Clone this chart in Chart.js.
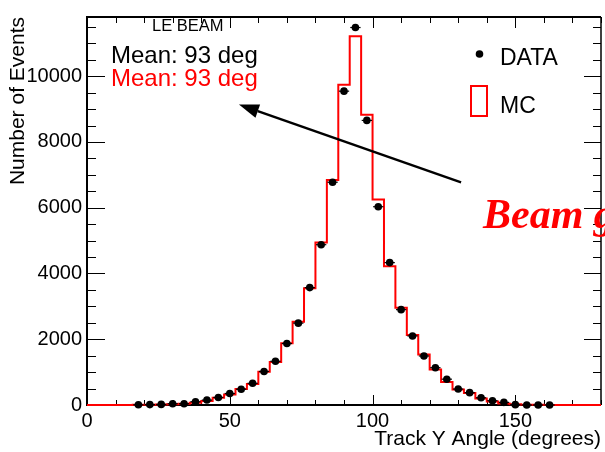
<!DOCTYPE html>
<html>
<head>
<meta charset="utf-8">
<script src="https://cdn.jsdelivr.net/npm/chart.js@4"></script>
<style>
html,body{margin:0;padding:0;background:#fff;}
#wrap{width:605px;height:452px;}
</style>
</head>
<body>
<div id="wrap"><canvas id="chart" width="605" height="452"></canvas></div>
<script>
// === TRACK Y ANGLE - LE BEAM === //

// MC histogram: low edge of each 4 degree bin, last upper edge
const binEdges = [0,4,8,12,16,20,24,28,32,36,40,44,48,52,56,60,64,68,72,76,80,84,88,92,96,100,104,108,112,116,120,124,128,132,136,140,144,148,152,156,160,164,168,172,176];
const binTop = 180;
const mcCounts = [0,0,0,0,5,10,15,25,40,70,120,220,320,490,640,1010,1310,1880,2530,3550,4945,6845,9740,11215,8830,6250,4220,2960,2130,1535,1080,700,470,365,200,105,45,20,10,5,0,0,0,0,0];

// DATA points at bin centres
const dataAngles = [18,22,26,30,34,38,42,46,50,54,58,62,66,70,74,78,82,86,90,94,98,102,106,110,114,118,122,126,130,134,138,142,146,150,154,158,162];
const dataCounts = [8,12,18,40,40,100,150,230,350,480,660,1020,1330,1870,2490,3570,4875,6775,9545,11480,8655,6030,4330,2900,2100,1490,1135,785,485,375,220,130,80,10,0,0,0];
const halfBin = 1.8;

// axis setup
const xTicks = [0,50,100,150];
const yTicks = [0,2000,4000,6000,8000,10000];
const xRange = [0,180];
const yRange = [0,11800];

// annotation texts
const caption = "LE BEAM";
const meanData = "Mean: 93 deg";
const meanMC = "Mean: 93 deg";
const arrowFrom = [131, 6770];
const arrowTo = [53.2, 9140];
const beamText = "Beam g";

const FONT = "'Liberation Sans', Arial, sans-serif";

const mcPoints = binEdges.map((e,i) => ({x:e, y:mcCounts[i]}));
mcPoints.push({x:binTop, y:mcCounts[mcCounts.length-1]});
const dataPoints = dataAngles.map((a,i) => ({x:a, y:dataCounts[i]}));

// ---- frame and inner ticks like ROOT ---- //
const rootFrame = {
  id: "rootFrame",
  beforeDatasetsDraw(chart){
    const {ctx, chartArea:a, scales:{x, y}} = chart;
    ctx.save();
    ctx.strokeStyle = "#000";
    const seg = (x1,y1,x2,y2) => { ctx.beginPath(); ctx.moveTo(x1,y1); ctx.lineTo(x2,y2); ctx.stroke(); };

    ctx.lineWidth = 1;
    for(let v=0; v<=y.max; v+=500){
      const py = Math.round(y.getPixelForValue(v)) + 0.5;
      const major = v % 2000 === 0;
      seg(a.left, py, a.left + (major?18:9), py);
      seg(a.right, py, a.right - (major?17:8), py);
    }
    for(let v=0; v<=x.max; v+=10){
      const px = Math.round(x.getPixelForValue(v)) + 0.5;
      const major = v % 50 === 0;
      seg(px, a.bottom, px, a.bottom - (major?10:5));
      seg(px, a.top, px, a.top + (major?11:6));
    }

    ctx.lineWidth = 2;
    seg(a.left, a.top, a.right, a.top);
    seg(a.left, a.top-1, a.left, a.bottom+1);
    seg(a.left-1, a.bottom, a.right, a.bottom);
    ctx.lineWidth = 1.5;
    seg(a.right, a.top, a.right, a.bottom);
    ctx.restore();
  },
  afterDatasetsDraw(chart){
    // small horizontal error bars on the data points
    const {ctx, scales:{x, y}} = chart;
    ctx.save();
    ctx.strokeStyle = "#000";
    ctx.lineWidth = 1.2;
    dataPoints.forEach(p => {
      const py = y.getPixelForValue(p.y);
      ctx.beginPath();
      ctx.moveTo(x.getPixelForValue(p.x - halfBin), py);
      ctx.lineTo(x.getPixelForValue(p.x + halfBin), py);
      ctx.stroke();
    });
    ctx.restore();
  }
};

// ---- texts, arrow, legend ---- //
const annotations = {
  id: "annotations",
  afterDraw(chart){
    const {ctx, scales:{x, y}} = chart;
    ctx.save();
    ctx.textBaseline = "alphabetic";
    ctx.textAlign = "left";

    ctx.fillStyle = "#000";
    ctx.font = "16.5px " + FONT;
    ctx.fillText(caption, 152, 31);

    ctx.font = "24px " + FONT;
    ctx.fillText(meanData, 111, 63);
    ctx.fillStyle = "#ff0000";
    ctx.fillText(meanMC, 111, 86);

    // arrow
    const x1 = x.getPixelForValue(arrowFrom[0]), y1 = y.getPixelForValue(arrowFrom[1]);
    const x2 = x.getPixelForValue(arrowTo[0]), y2 = y.getPixelForValue(arrowTo[1]);
    const ang = Math.atan2(y2-y1, x2-x1);
    const hl = 20, hw = 7;
    const bx = x2 - hl*Math.cos(ang), by = y2 - hl*Math.sin(ang);
    ctx.strokeStyle = "#000";
    ctx.lineWidth = 2.5;
    ctx.beginPath(); ctx.moveTo(x1,y1); ctx.lineTo(bx,by); ctx.stroke();
    ctx.fillStyle = "#000";
    ctx.beginPath();
    ctx.moveTo(x2,y2);
    ctx.lineTo(bx + hw*Math.sin(ang), by - hw*Math.cos(ang));
    ctx.lineTo(bx - hw*Math.sin(ang), by + hw*Math.cos(ang));
    ctx.closePath();
    ctx.fill();

    // legend
    ctx.beginPath(); ctx.arc(479.5, 54, 3.8, 0, Math.PI*2); ctx.fill();
    ctx.font = "23px " + FONT;
    ctx.fillText("DATA", 500, 65);
    ctx.fillText("MC", 500, 113);
    ctx.strokeStyle = "#ff0000";
    ctx.lineWidth = 2;
    ctx.strokeRect(471, 86, 16, 30);

    ctx.fillStyle = "#ff0000";
    ctx.font = "italic bold 42px 'Liberation Serif', 'Times New Roman', serif";
    ctx.fillText(beamText, 483, 228);
    ctx.restore();
  }
};

new Chart(document.getElementById("chart"), {
  type: "line",
  data: {
    datasets: [
      {
        label: "DATA",
        data: dataPoints,
        showLine: false,
        pointRadius: 3.8,
        pointBackgroundColor: "#000",
        pointBorderColor: "#000",
        pointBorderWidth: 0,
        order: 0,
        clip: false
      },
      {
        label: "MC",
        data: mcPoints,
        stepped: "before",
        borderColor: "#ff0000",
        borderWidth: 2,
        pointRadius: 0,
        fill: false,
        order: 1,
        clip: false
      }
    ]
  },
  options: {
    responsive: false,
    animation: false,
    events: [],
    layout: { padding: { top: 7, right: 2, left: 0, bottom: 0 } },
    plugins: { legend: { display: false }, tooltip: { enabled: false } },
    scales: {
      x: {
        type: "linear",
        min: xRange[0], max: xRange[1],
        grid: { display: false, drawTicks: false },
        border: { display: false },
        afterFit: s => { s.height = 47; },
        afterBuildTicks: s => { s.ticks = xTicks.map(v => ({value:v})); },
        ticks: { font: { family: FONT, size: 20 }, color: "#000", padding: 4, maxRotation: 0, autoSkip: false,
                 callback: v => String(v) },
        title: { display: true, text: "Track Y Angle (degrees)", align: "end", color: "#000",
                 font: { family: FONT, size: 21 }, padding: { top: 0, bottom: 0 } }
      },
      y: {
        type: "linear",
        min: yRange[0], max: yRange[1],
        grid: { display: false, drawTicks: false },
        border: { display: false },
        afterFit: s => { s.width = 87; },
        afterBuildTicks: s => { s.ticks = yTicks.map(v => ({value:v})); },
        ticks: { font: { family: FONT, size: 20 }, color: "#000", padding: 5, autoSkip: false,
                 callback: v => String(v) },
        title: { display: true, text: "Number of Events", align: "end", color: "#000",
                 font: { family: FONT, size: 21 }, padding: { top: 6, bottom: 0 } }
      }
    }
  },
  plugins: [rootFrame, annotations]
});
</script>
</body>
</html>
